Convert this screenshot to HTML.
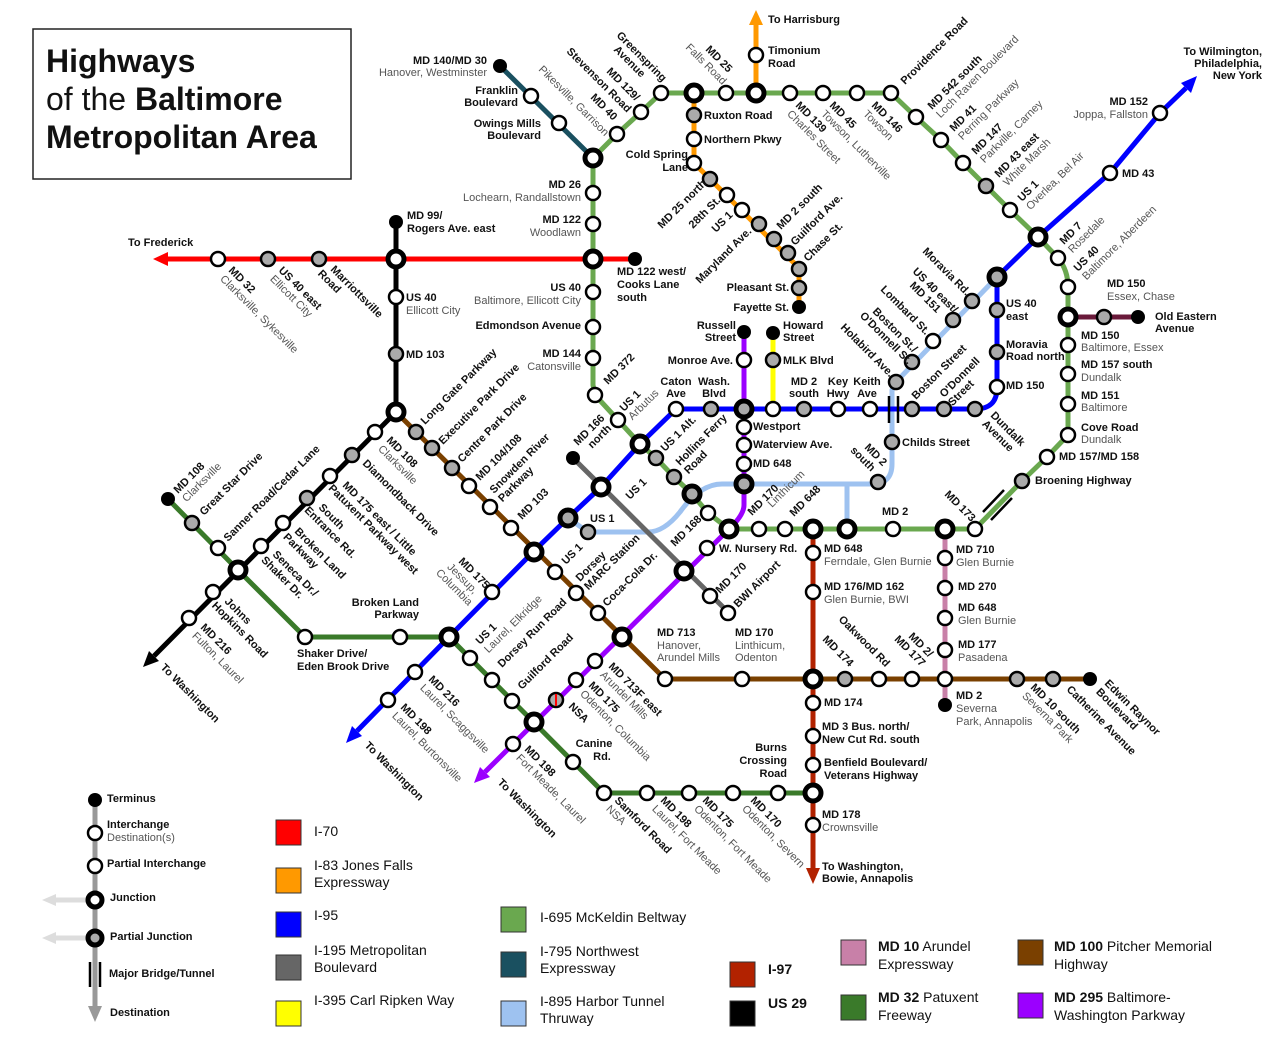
<!DOCTYPE html>
<html><head><meta charset="utf-8"><style>
html,body{margin:0;padding:0;background:#fff}
svg{display:block}
text{font-family:"Liberation Sans",Arial,sans-serif}
.b{font-size:11px;font-weight:bold;fill:#111}
.g{font-size:11px;fill:#555;font-weight:normal}
.lg{font-size:14px;fill:#111}
.ln{fill:none;stroke-width:5;stroke-linejoin:round}
.s{fill:#fff;stroke:#000;stroke-width:2.5}
.p{fill:#aaa;stroke:#000;stroke-width:2.5}
.j{fill:#fff;stroke:#000;stroke-width:5}
.pj{fill:#aaa;stroke:#000;stroke-width:5}
.t{fill:#000}
</style></head><body>
<svg width="1280" height="1051" viewBox="0 0 1280 1051" xmlns="http://www.w3.org/2000/svg">
<rect x="33" y="29" width="318" height="150" fill="#fff" stroke="#222" stroke-width="1.5"/>
<text x="46" y="72" style="font-size:32px;font-weight:bold;fill:#111">Highways</text>
<text x="46" y="110" style="font-size:32px;fill:#111">of the <tspan font-weight="bold">Baltimore</tspan></text>
<text x="46" y="148" style="font-size:32px;font-weight:bold;fill:#111">Metropolitan Area</text>

<path class="ln" stroke="#9ec2f0" d="M568,518 L588,532 L648,532 Q664,532 680,512 Q700,484 722,484 L872,484 Q892,484 892,464 L892,390 L896,382 L997,277"/>
<path class="ln" stroke="#9ec2f0" d="M847,484 V529"/>
<path class="ln" stroke="#6aa84f" d="M593,158 L617,134 L641,112 L661,93 L891,93 L916,117 L941,140 L963,163 L986,186 L1010,210 L1038,237 L1058,258 Q1068,270 1068,287 L1068,435 L1047,457 L1022,481 L975,529 L729,529 L708,513 L692,494 L674,477 L656,458 L640,444 L618,420 L595,395 L593,385 Z"/>
<path class="ln" stroke="#f00" d="M165,259 H635"/>
<polygon points="153,259 168,252 168,266" fill="#f00"/>
<path class="ln" stroke="#000" d="M396,222 V412 L154,656"/>
<polygon points="143,667 159,661 149,651" fill="#000"/>
<path class="ln" stroke="#3a7a2a" d="M168,499 L238,570 L305,637 L449,637 L604,793 L813,793"/>
<path class="ln" stroke="#7a4000" d="M396,412 L665,679 L1090,679"/>
<path class="ln" stroke="#666" d="M573,458 L728,612"/>
<path class="ln" stroke="#9b00ff" d="M744,330 V505 Q744,515 729,529 L485,772"/>
<polygon points="474,783 490,777 480,767" fill="#9b00ff"/>
<path class="ln" stroke="#00f" d="M357,731 L449,637 L534,551 L568,518 L601,487 L640,444 L676,409 L975,409 Q997,409 997,388 L997,277 L1038,237 L1110,173 L1160,113 L1186,88"/>
<polygon points="1197,76 1191,93 1181,83" fill="#00f"/>
<polygon points="346,743 362,736 352,726" fill="#00f"/>
<path class="ln" stroke="#f90" d="M756,24 V93"/>
<polygon points="756,10 749,25 763,25" fill="#f90"/>
<path class="ln" stroke="#f90" d="M694,93 V163 L799,268 V307"/>
<path class="ln" stroke="#ff0" d="M773,333 V409"/>
<path class="ln" stroke="#1a5060" d="M500,66 L593,158"/>
<path class="ln" stroke="#b22200" d="M813,529 V868"/>
<polygon points="813,884 806,868 820,868" fill="#b22200"/>
<path class="ln" stroke="#c880a8" d="M945,529 V705"/>
<path class="ln" stroke="#6a1a3a" d="M1068,317 H1138"/>
<path d="M1004,490 L983,512 M1012,498 L991,520" stroke="#000" stroke-width="2.5"/>
<path d="M889,396 V423 M898,396 V423" stroke="#000" stroke-width="2.5"/>

<g>
<circle class="s" cx="218" cy="259" r="7"/><circle class="p" cx="268" cy="259" r="7"/><circle class="p" cx="319" cy="259" r="7"/>
<circle class="t" cx="635" cy="259" r="7"/>
<circle class="t" cx="396" cy="222" r="7"/><circle class="s" cx="396" cy="297" r="7"/><circle class="p" cx="396" cy="354" r="7"/>
<circle class="s" cx="375" cy="432" r="7"/><circle class="p" cx="352" cy="455" r="7"/><circle class="s" cx="330" cy="476" r="7"/><circle class="p" cx="307" cy="498" r="7"/><circle class="s" cx="283" cy="523" r="7"/><circle class="s" cx="261" cy="546" r="7"/><circle class="s" cx="213" cy="592" r="7"/><circle class="s" cx="189" cy="618" r="7"/>
<circle class="t" cx="168" cy="499" r="7"/><circle class="p" cx="192" cy="523" r="7"/><circle class="s" cx="218" cy="548" r="7"/><circle class="s" cx="305" cy="637" r="7"/><circle class="s" cx="400" cy="637" r="7"/>
<circle class="s" cx="470" cy="658" r="7"/><circle class="s" cx="492" cy="680" r="7"/><circle class="s" cx="512" cy="701" r="7"/><circle class="s" cx="573" cy="762" r="7"/><circle class="s" cx="604" cy="793" r="7"/><circle class="s" cx="647" cy="793" r="7"/><circle class="s" cx="689" cy="793" r="7"/><circle class="s" cx="733" cy="793" r="7"/><circle class="s" cx="778" cy="793" r="7"/>
<circle class="p" cx="416" cy="432" r="7"/><circle class="p" cx="432" cy="448" r="7"/><circle class="p" cx="452" cy="468" r="7"/><circle class="s" cx="469" cy="486" r="7"/><circle class="s" cx="490" cy="507" r="7"/><circle class="s" cx="511" cy="528" r="7"/>
<circle class="s" cx="555" cy="572" r="7"/><circle class="s" cx="576" cy="593" r="7"/><circle class="s" cx="598" cy="613" r="7"/><circle class="s" cx="665" cy="679" r="7"/><circle class="s" cx="742" cy="679" r="7"/><circle class="p" cx="845" cy="679" r="7"/><circle class="s" cx="879" cy="679" r="7"/><circle class="s" cx="912" cy="679" r="7"/><circle class="s" cx="945" cy="679" r="7"/><circle class="p" cx="1017" cy="679" r="7"/><circle class="p" cx="1053" cy="679" r="7"/><circle class="t" cx="1090" cy="679" r="7"/>
<circle class="t" cx="573" cy="458" r="7"/><circle class="s" cx="710" cy="596" r="7"/><circle class="s" cx="728" cy="613" r="7"/>
<circle class="t" cx="744" cy="332" r="7"/><circle class="s" cx="744" cy="360" r="7"/><circle class="s" cx="744" cy="427" r="7"/><circle class="s" cx="744" cy="445" r="7"/><circle class="s" cx="744" cy="464" r="7"/>
<circle class="s" cx="707" cy="548" r="7"/><circle class="s" cx="595" cy="661" r="7"/><circle class="s" cx="576" cy="680" r="7"/><circle class="p" cx="556" cy="700" r="7"/><path d="M556,694 V706" stroke="#f00" stroke-width="2"/><circle class="s" cx="513" cy="744" r="7"/>
<circle class="s" cx="492" cy="592" r="7"/><circle class="s" cx="415" cy="672" r="7"/><circle class="s" cx="388" cy="700" r="7"/>
<circle class="s" cx="676" cy="409" r="7"/><circle class="p" cx="711" cy="409" r="7"/><circle class="s" cx="773" cy="409" r="7"/><circle class="p" cx="804" cy="409" r="7"/><circle class="s" cx="838" cy="409" r="7"/><circle class="s" cx="870" cy="409" r="7"/><circle class="p" cx="912" cy="409" r="7"/><circle class="p" cx="944" cy="409" r="7"/><circle class="p" cx="975" cy="409" r="7"/>
<circle class="s" cx="997" cy="387" r="7"/><circle class="p" cx="997" cy="352" r="7"/><circle class="p" cx="997" cy="310" r="7"/>
<circle class="s" cx="1110" cy="173" r="7"/><circle class="s" cx="1160" cy="113" r="7"/>
<circle class="p" cx="588" cy="532" r="7"/><circle class="p" cx="878" cy="482" r="7"/><circle class="p" cx="892" cy="442" r="7"/><circle class="p" cx="896" cy="382" r="7"/><circle class="p" cx="912" cy="362" r="7"/><circle class="s" cx="933" cy="341" r="7"/><circle class="p" cx="953" cy="320" r="7"/><circle class="p" cx="972" cy="301" r="7"/>
<circle class="s" cx="617" cy="134" r="7"/><circle class="s" cx="641" cy="112" r="7"/><circle class="s" cx="661" cy="93" r="7"/><circle class="s" cx="726" cy="93" r="7"/><circle class="s" cx="790" cy="93" r="7"/><circle class="s" cx="823" cy="93" r="7"/><circle class="s" cx="857" cy="93" r="7"/><circle class="s" cx="891" cy="93" r="7"/>
<circle class="s" cx="916" cy="117" r="7"/><circle class="s" cx="941" cy="140" r="7"/><circle class="s" cx="963" cy="163" r="7"/><circle class="p" cx="986" cy="186" r="7"/><circle class="s" cx="1010" cy="210" r="7"/><circle class="s" cx="1058" cy="258" r="7"/>
<circle class="s" cx="1068" cy="287" r="7"/><circle class="s" cx="1068" cy="345" r="7"/><circle class="s" cx="1068" cy="374" r="7"/><circle class="s" cx="1068" cy="404" r="7"/><circle class="s" cx="1068" cy="435" r="7"/><circle class="s" cx="1047" cy="457" r="7"/><circle class="p" cx="1022" cy="481" r="7"/><circle class="s" cx="975" cy="529" r="7"/><circle class="s" cx="893" cy="529" r="7"/><circle class="s" cx="785" cy="529" r="7"/><circle class="s" cx="759" cy="529" r="7"/>
<circle class="s" cx="708" cy="513" r="7"/><circle class="p" cx="674" cy="477" r="7"/><circle class="p" cx="656" cy="458" r="7"/><circle class="s" cx="618" cy="420" r="7"/><circle class="s" cx="595" cy="395" r="7"/>
<circle class="s" cx="593" cy="358" r="7"/><circle class="s" cx="593" cy="327" r="7"/><circle class="s" cx="593" cy="292" r="7"/><circle class="s" cx="593" cy="224" r="7"/><circle class="s" cx="593" cy="193" r="7"/>
<circle class="s" cx="756" cy="55" r="7"/><circle class="p" cx="694" cy="115" r="7"/><circle class="s" cx="694" cy="139" r="7"/><circle class="s" cx="694" cy="163" r="7"/><circle class="p" cx="710" cy="179" r="7"/><circle class="s" cx="727" cy="195" r="7"/><circle class="s" cx="742" cy="210" r="7"/><circle class="p" cx="759" cy="224" r="7"/><circle class="p" cx="774" cy="239" r="7"/><circle class="p" cx="788" cy="253" r="7"/><circle class="p" cx="799" cy="269" r="7"/><circle class="p" cx="799" cy="288" r="7"/><circle class="t" cx="799" cy="307" r="7"/>
<circle class="t" cx="773" cy="333" r="7"/><circle class="p" cx="773" cy="360" r="7"/>
<circle class="t" cx="500" cy="66" r="7"/><circle class="s" cx="531" cy="96" r="7"/><circle class="s" cx="559" cy="123" r="7"/>
<circle class="s" cx="813" cy="553" r="7"/><circle class="s" cx="813" cy="592" r="7"/><circle class="s" cx="813" cy="703" r="7"/><circle class="s" cx="813" cy="736" r="7"/><circle class="s" cx="813" cy="765" r="7"/><circle class="s" cx="813" cy="825" r="7"/>
<circle class="s" cx="945" cy="558" r="7"/><circle class="s" cx="945" cy="588" r="7"/><circle class="s" cx="945" cy="618" r="7"/><circle class="s" cx="945" cy="650" r="7"/><circle class="t" cx="945" cy="705" r="7"/>
<circle class="p" cx="1104" cy="317" r="7"/><circle class="t" cx="1138" cy="317" r="7"/>
<circle class="j" cx="396" cy="259" r="8"/><circle class="j" cx="593" cy="259" r="8"/><circle class="j" cx="396" cy="412" r="8"/><circle class="j" cx="238" cy="570" r="8"/>
<circle class="j" cx="449" cy="637" r="8"/><circle class="j" cx="534" cy="722" r="8"/><circle class="j" cx="813" cy="793" r="8"/><circle class="j" cx="534" cy="552" r="8"/><circle class="j" cx="622" cy="637" r="8"/><circle class="j" cx="813" cy="679" r="8"/>
<circle class="j" cx="601" cy="487" r="8"/><circle class="j" cx="684" cy="571" r="8"/><circle class="pj" cx="744" cy="409" r="8"/><circle class="pj" cx="744" cy="484" r="8"/><circle class="j" cx="729" cy="529" r="8"/>
<circle class="pj" cx="568" cy="518" r="8"/><circle class="j" cx="640" cy="444" r="8"/><circle class="pj" cx="997" cy="277" r="8"/><circle class="j" cx="1038" cy="237" r="8"/>
<circle class="j" cx="593" cy="158" r="8"/><circle class="j" cx="694" cy="93" r="8"/><circle class="j" cx="756" cy="93" r="8"/><circle class="j" cx="1068" cy="317" r="8"/>
<circle class="j" cx="813" cy="529" r="8"/><circle class="j" cx="847" cy="529" r="8"/><circle class="j" cx="945" cy="529" r="8"/><circle class="pj" cx="692" cy="494" r="8"/>
</g>

<g class="b">
<text x="487" y="64" text-anchor="end">MD 140/MD 30</text><text x="487" y="76" text-anchor="end" class="g">Hanover, Westminster</text>
<text x="518" y="94" text-anchor="end">Franklin</text><text x="518" y="106" text-anchor="end">Boulevard</text>
<text x="541" y="127" text-anchor="end">Owings Mills</text><text x="541" y="139" text-anchor="end">Boulevard</text>
<text x="704" y="119">Ruxton Road</text><text x="704" y="143">Northern Pkwy</text>
<text x="688" y="158" text-anchor="end">Cold Spring</text><text x="688" y="171" text-anchor="end">Lane</text>
<text x="768" y="23">To Harrisburg</text><text x="768" y="54">Timonium</text><text x="768" y="67">Road</text>
<text x="1262" y="55" text-anchor="end">To Wilmington,</text><text x="1262" y="79" text-anchor="end">New York</text><text x="1262" y="67" text-anchor="end">Philadelphia,</text>
<text x="1148" y="105" text-anchor="end">MD 152</text><text x="1148" y="118" text-anchor="end" class="g">Joppa, Fallston</text>
<text x="1122" y="177">MD 43</text>
<text x="1107" y="287">MD 150</text><text x="1107" y="300" class="g">Essex, Chase</text>
<text x="1155" y="320">Old Eastern</text><text x="1155" y="332">Avenue</text>
<text x="1081" y="339">MD 150</text><text x="1081" y="351" class="g">Baltimore, Essex</text>
<text x="1081" y="368">MD 157 south</text><text x="1081" y="381" class="g">Dundalk</text>
<text x="1081" y="399">MD 151</text><text x="1081" y="411" class="g">Baltimore</text>
<text x="1081" y="431">Cove Road</text><text x="1081" y="443" class="g">Dundalk</text>
<text x="1059" y="460">MD 157/MD 158</text><text x="1035" y="484">Broening Highway</text>
<text x="1006" y="307">US 40</text><text x="1006" y="320">east</text>
<text x="1006" y="348">Moravia</text><text x="1006" y="360">Road north</text><text x="1006" y="389">MD 150</text>
<text x="902" y="446">Childs Street</text>
<text x="676" y="385" text-anchor="middle">Caton</text><text x="676" y="397" text-anchor="middle">Ave</text>
<text x="714" y="385" text-anchor="middle">Wash.</text><text x="714" y="397" text-anchor="middle">Blvd</text>
<text x="804" y="385" text-anchor="middle">MD 2</text><text x="804" y="397" text-anchor="middle">south</text>
<text x="838" y="385" text-anchor="middle">Key</text><text x="838" y="397" text-anchor="middle">Hwy</text>
<text x="867" y="385" text-anchor="middle">Keith</text><text x="867" y="397" text-anchor="middle">Ave</text>
<text x="736" y="329" text-anchor="end">Russell</text><text x="736" y="341" text-anchor="end">Street</text>
<text x="783" y="329">Howard</text><text x="783" y="341">Street</text>
<text x="733" y="364" text-anchor="end">Monroe Ave.</text><text x="783" y="364">MLK Blvd</text>
<text x="789" y="291" text-anchor="end">Pleasant St.</text><text x="789" y="311" text-anchor="end">Fayette St.</text>
<text x="753" y="430">Westport</text><text x="753" y="448">Waterview Ave.</text><text x="753" y="467">MD 648</text>
<text x="882" y="515">MD 2</text>
<text x="719" y="552">W. Nursery Rd.</text>
<text x="824" y="552">MD 648</text><text x="824" y="565" class="g">Ferndale, Glen Burnie</text>
<text x="824" y="590">MD 176/MD 162</text><text x="824" y="603" class="g">Glen Burnie, BWI</text>
<text x="956" y="553">MD 710</text><text x="956" y="566" class="g">Glen Burnie</text>
<text x="958" y="590">MD 270</text>
<text x="958" y="611">MD 648</text><text x="958" y="624" class="g">Glen Burnie</text>
<text x="958" y="648">MD 177</text><text x="958" y="661" class="g">Pasadena</text>
<text x="956" y="699">MD 2</text><text x="956" y="712" class="g">Severna</text><text x="956" y="725" class="g">Park, Annapolis</text>
<text x="657" y="636">MD 713</text><text x="657" y="649" class="g">Hanover,</text><text x="657" y="661" class="g">Arundel Mills</text>
<text x="735" y="636">MD 170</text><text x="735" y="649" class="g">Linthicum,</text><text x="735" y="661" class="g">Odenton</text>
<text x="824" y="706">MD 174</text><text x="822" y="730">MD 3 Bus. north/</text><text x="822" y="743">New Cut Rd. south</text>
<text x="824" y="766">Benfield Boulevard/</text><text x="824" y="779">Veterans Highway</text>
<text x="822" y="818">MD 178</text><text x="822" y="831" class="g">Crownsville</text>
<text x="822" y="870">To Washington,</text><text x="822" y="882">Bowie, Annapolis</text>
<text x="787" y="751" text-anchor="end">Burns</text><text x="787" y="764" text-anchor="end">Crossing</text><text x="787" y="777" text-anchor="end">Road</text>
<text x="594" y="747" text-anchor="middle">Canine</text><text x="602" y="760" text-anchor="middle">Rd.</text>
<text x="128" y="246">To Frederick</text>
<text x="407" y="219">MD 99/</text><text x="407" y="232">Rogers Ave. east</text>
<text x="406" y="301">US 40</text><text x="406" y="314" class="g">Ellicott City</text><text x="406" y="358">MD 103</text>
<text x="617" y="275">MD 122 west/</text><text x="617" y="288">Cooks Lane</text><text x="617" y="301">south</text>
<text x="581" y="188" text-anchor="end">MD 26</text><text x="581" y="201" text-anchor="end" class="g">Lochearn, Randallstown</text>
<text x="581" y="223" text-anchor="end">MD 122</text><text x="581" y="236" text-anchor="end" class="g">Woodlawn</text>
<text x="581" y="291" text-anchor="end">US 40</text><text x="581" y="304" text-anchor="end" class="g">Baltimore, Ellicott City</text>
<text x="581" y="329" text-anchor="end">Edmondson Avenue</text>
<text x="581" y="357" text-anchor="end">MD 144</text><text x="581" y="370" text-anchor="end" class="g">Catonsville</text>
<text x="419" y="606" text-anchor="end">Broken Land</text><text x="419" y="618" text-anchor="end">Parkway</text>
<text x="297" y="657">Shaker Drive/</text><text x="297" y="670">Eden Brook Drive</text>
<text x="590" y="522">US 1</text>
</g>

<g class="b">
<g transform="translate(228,271) rotate(45)"><text>MD 32<tspan x="0" dy="12" class="g">Clarksville, Sykesville</tspan></text></g>
<g transform="translate(278,271) rotate(45)"><text>US 40 east<tspan x="0" dy="12" class="g">Ellicott City</tspan></text></g>
<g transform="translate(330,270) rotate(45)"><text>Marriottsville<tspan x="-6" dy="12">Road</tspan></text></g>
<g transform="translate(386,441) rotate(45)"><text>MD 108<tspan x="0" dy="12" class="g">Clarksville</tspan></text></g>
<g transform="translate(362,464) rotate(45)"><text>Diamondback Drive</text></g>
<g transform="translate(342,486) rotate(45)"><text>MD 175 east / Little<tspan x="-8" dy="12">Patuxent Parkway west</tspan></text></g>
<g transform="translate(318,508) rotate(45)"><text>South<tspan x="-8" dy="12">Entrance Rd.</tspan></text></g>
<g transform="translate(294,532) rotate(45)"><text>Broken Land<tspan x="-4" dy="12">Parkway</tspan></text></g>
<g transform="translate(272,555) rotate(45)"><text>Seneca Dr./<tspan x="-4" dy="12">Shaker Dr.</tspan></text></g>
<g transform="translate(224,602) rotate(45)"><text>Johns<tspan x="-6" dy="12">Hopkins Road</tspan></text></g>
<g transform="translate(200,628) rotate(45)"><text>MD 216<tspan x="0" dy="12" class="g">Fulton, Laurel</tspan></text></g>
<g transform="translate(160,668) rotate(45)"><text>To Washington</text></g>
<g transform="translate(458,562) rotate(45)"><text>MD 175<tspan x="-4" dy="12" class="g">Jessup,</tspan><tspan x="-8" dy="12" class="g">Columbia</tspan></text></g>
<g transform="translate(428,680) rotate(45)"><text>MD 216<tspan x="0" dy="12" class="g">Laurel, Scaggsville</tspan></text></g>
<g transform="translate(400,708) rotate(45)"><text>MD 198<tspan x="0" dy="12" class="g">Laurel, Burtonsville</tspan></text></g>
<g transform="translate(364,746) rotate(45)"><text>To Washington</text></g>
<g transform="translate(608,667) rotate(45)"><text>MD 713F east<tspan x="0" dy="12" class="g">Arundel Mills</tspan></text></g>
<g transform="translate(588,686) rotate(45)"><text>MD 175<tspan x="0" dy="12" class="g">Odenton, Columbia</tspan></text></g>
<g transform="translate(568,707) rotate(45)"><text>NSA</text></g>
<g transform="translate(524,750) rotate(45)"><text>MD 198<tspan x="0" dy="12" class="g">Fort Meade, Laurel</tspan></text></g>
<g transform="translate(497,783) rotate(45)"><text>To Washington</text></g>
<g transform="translate(614,801) rotate(45)"><text>Samford Road<tspan x="0" dy="12" class="g">NSA</tspan></text></g>
<g transform="translate(660,801) rotate(45)"><text>MD 198<tspan x="0" dy="12" class="g">Laurel, Fort Meade</tspan></text></g>
<g transform="translate(702,801) rotate(45)"><text>MD 175<tspan x="0" dy="12" class="g">Odenton, Fort Meade</tspan></text></g>
<g transform="translate(750,801) rotate(45)"><text>MD 170<tspan x="0" dy="12" class="g">Odenton, Severn</tspan></text></g>
<g transform="translate(1030,688) rotate(45)"><text>MD 10 south<tspan x="0" dy="12" class="g">Severna Park</tspan></text></g>
<g transform="translate(1066,690) rotate(45)"><text>Catherine Avenue</text></g>
<g transform="translate(1104,684) rotate(45)"><text>Edwin Raynor<tspan x="0" dy="12">Boulevard</tspan></text></g>
<g transform="translate(822,640) rotate(45)"><text>MD 174</text></g>
<g transform="translate(838,620) rotate(45)"><text>Oakwood Rd</text></g>
<g transform="translate(908,637) rotate(45)"><text>MD 2/<tspan x="-8" dy="12">MD 177</tspan></text></g>
<g transform="translate(944,495) rotate(45)"><text>MD 173</text></g>
<g transform="translate(864,448) rotate(45)"><text>MD 2<tspan x="-8" dy="12">south</tspan></text></g>
<g transform="translate(990,416) rotate(45)"><text>Dundalk<tspan x="0" dy="12">Avenue</tspan></text></g>
<g transform="translate(922,252) rotate(45)"><text>Moravia Rd.</text></g>
<g transform="translate(912,272) rotate(45)"><text>US 40 east/<tspan x="8" dy="12">MD 151</tspan></text></g>
<g transform="translate(880,290) rotate(45)"><text>Lombard St.</text></g>
<g transform="translate(872,312) rotate(45)"><text>Boston St./<tspan x="-6" dy="12">O'Donnell St.</tspan></text></g>
<g transform="translate(840,328) rotate(45)"><text>Holabird Ave.</text></g>
<g transform="translate(795,106) rotate(45)"><text>MD 139<tspan x="0" dy="12" class="g">Charles Street</tspan></text></g>
<g transform="translate(829,106) rotate(45)"><text>MD 45<tspan x="0" dy="12" class="g">Towson, Lutherville</tspan></text></g>
<g transform="translate(871,106) rotate(45)"><text>MD 146<tspan x="0" dy="12" class="g">Towson</tspan></text></g>
<g transform="translate(705,50) rotate(45)"><text>MD 25</text></g>
<g transform="translate(685,48) rotate(45)"><text class="g">Falls Road</text></g>
<g transform="translate(616,36) rotate(45)"><text>Greenspring<tspan x="8" dy="12">Avenue</tspan></text></g>
<g transform="translate(606,72) rotate(45)"><text>MD 129/</text></g>
<g transform="translate(566,52) rotate(45)"><text>Stevenson Road</text></g>
<g transform="translate(590,98) rotate(45)"><text>MD 40</text></g>
<g transform="translate(538,70) rotate(45)"><text class="g">Pikesville, Garrison</text></g>
</g>

<g class="b">
<g transform="translate(178,494) rotate(-45)"><text>MD 108<tspan x="0" dy="12" class="g">Clarksville</tspan></text></g>
<g transform="translate(204,516) rotate(-45)"><text>Great Star Drive</text></g>
<g transform="translate(228,542) rotate(-45)"><text>Sanner Road/Cedar Lane</text></g>
<g transform="translate(425,425) rotate(-45)"><text>Long Gate Parkway</text></g>
<g transform="translate(443,445) rotate(-45)"><text>Executive Park Drive</text></g>
<g transform="translate(462,463) rotate(-45)"><text>Centre Park Drive</text></g>
<g transform="translate(480,481) rotate(-45)"><text>MD 104/108</text></g>
<g transform="translate(494,494) rotate(-45)"><text>Snowden River<tspan x="0" dy="12">Parkway</tspan></text></g>
<g transform="translate(522,520) rotate(-45)"><text>MD 103</text></g>
<g transform="translate(480,645) rotate(-45)"><text>US 1<tspan x="0" dy="12" class="g">Laurel, Elkridge</tspan></text></g>
<g transform="translate(502,668) rotate(-45)"><text>Dorsey Run Road</text></g>
<g transform="translate(522,690) rotate(-45)"><text>Guilford Road</text></g>
<g transform="translate(566,565) rotate(-45)"><text>US 1</text></g>
<g transform="translate(580,582) rotate(-45)"><text>Dorsey<tspan x="0" dy="12">MARC Station</tspan></text></g>
<g transform="translate(607,607) rotate(-45)"><text>Coca-Cola Dr.</text></g>
<g transform="translate(675,547) rotate(-45)"><text>MD 168</text></g>
<g transform="translate(720,594) rotate(-45)"><text>MD 170</text></g>
<g transform="translate(738,608) rotate(-45)"><text>BWI Airport</text></g>
<g transform="translate(752,516) rotate(-45)"><text>MD 170</text></g>
<g transform="translate(772,508) rotate(-45)"><text class="g">Linthicum</text></g>
<g transform="translate(794,517) rotate(-45)"><text>MD 648</text></g>
<g transform="translate(680,466) rotate(-45)"><text>Hollins Ferry<tspan x="0" dy="12">Road</tspan></text></g>
<g transform="translate(665,452) rotate(-45)"><text>US 1 Alt.</text></g>
<g transform="translate(624,412) rotate(-45)"><text>US 1<tspan x="0" dy="12" class="g">Arbutus</tspan></text></g>
<g transform="translate(608,385) rotate(-45)"><text>MD 372</text></g>
<g transform="translate(630,500) rotate(-45)"><text>US 1</text></g>
<g transform="translate(578,446) rotate(-45)"><text>MD 166<tspan x="8" dy="12">north</tspan></text></g>
<g transform="translate(662,229) rotate(-45)"><text>MD 25 north</text></g>
<g transform="translate(693,229) rotate(-45)"><text>28th St.</text></g>
<g transform="translate(716,233) rotate(-45)"><text>US 1</text></g>
<g transform="translate(700,284) rotate(-45)"><text>Maryland Ave.</text></g>
<g transform="translate(781,230) rotate(-45)"><text>MD 2 south</text></g>
<g transform="translate(795,246) rotate(-45)"><text>Guilford Ave.</text></g>
<g transform="translate(808,262) rotate(-45)"><text>Chase St.</text></g>
<g transform="translate(905,85) rotate(-45)"><text>Providence Road</text></g>
<g transform="translate(932,110) rotate(-45)"><text>MD 542 south<tspan x="0" dy="12" class="g">Loch Raven Boulevard</tspan></text></g>
<g transform="translate(954,132) rotate(-45)"><text>MD 41<tspan x="0" dy="12" class="g">Perring Parkway</tspan></text></g>
<g transform="translate(976,155) rotate(-45)"><text>MD 147<tspan x="0" dy="12" class="g">Parkville, Carney</tspan></text></g>
<g transform="translate(999,178) rotate(-45)"><text>MD 43 east<tspan x="0" dy="12" class="g">White Marsh</tspan></text></g>
<g transform="translate(1022,202) rotate(-45)"><text>US 1<tspan x="0" dy="12" class="g">Overlea, Bel Air</tspan></text></g>
<g transform="translate(1064,245) rotate(-45)"><text>MD 7<tspan x="0" dy="12" class="g">Rosedale</tspan></text></g>
<g transform="translate(1078,272) rotate(-45)"><text>US 40<tspan x="0" dy="12" class="g">Baltimore, Aberdeen</tspan></text></g>
<g transform="translate(916,400) rotate(-45)"><text>Boston Street</text></g>
<g transform="translate(944,398) rotate(-45)"><text>O'Donnell<tspan x="0" dy="12">Street</tspan></text></g>
</g>

<path d="M95,800 V1008" stroke="#999" stroke-width="5"/>
<polygon points="95,1022 88,1006 102,1006" fill="#999"/>
<path d="M52,900 H90 M52,938 H90" stroke="#ddd" stroke-width="5"/>
<polygon points="42,900 56,894 56,906" fill="#ddd"/><polygon points="42,938 56,932 56,944" fill="#ddd"/>
<path d="M90,962 V987 M100,962 V987" stroke="#000" stroke-width="2.5"/>
<circle class="t" cx="95" cy="800" r="7"/><circle class="s" cx="95" cy="833" r="7"/><circle class="s" cx="95" cy="866" r="7"/>
<circle class="j" cx="95" cy="900" r="7"/><circle class="pj" cx="95" cy="938" r="7"/>
<g class="b">
<text x="107" y="802">Terminus</text><text x="107" y="828">Interchange</text><text x="107" y="841" class="g">Destination(s)</text>
<text x="107" y="867">Partial Interchange</text><text x="110" y="901">Junction</text><text x="110" y="940">Partial Junction</text>
<text x="109" y="977">Major Bridge/Tunnel</text><text x="110" y="1016">Destination</text>
</g>
<g stroke="#333" stroke-width="1">
<rect x="276" y="820" width="25" height="25" fill="#f00"/>
<rect x="276" y="868" width="25" height="25" fill="#f90"/>
<rect x="276" y="912" width="25" height="25" fill="#00f"/>
<rect x="276" y="955" width="25" height="25" fill="#666"/>
<rect x="276" y="1001" width="25" height="25" fill="#ff0"/>
<rect x="501" y="907" width="25" height="25" fill="#6aa84f"/>
<rect x="501" y="952" width="25" height="25" fill="#1a5060"/>
<rect x="501" y="1001" width="25" height="25" fill="#9ec2f0"/>
<rect x="730" y="962" width="25" height="25" fill="#b22200"/>
<rect x="730" y="1001" width="25" height="25" fill="#000"/>
<rect x="841" y="940" width="25" height="25" fill="#c880a8"/>
<rect x="841" y="995" width="25" height="25" fill="#3a7a2a"/>
<rect x="1018" y="940" width="25" height="25" fill="#7a4000"/>
<rect x="1018" y="993" width="25" height="25" fill="#9b00ff"/>
</g>
<g class="lg">
<text x="314" y="836">I-70</text>
<text x="314" y="870">I-83 Jones Falls</text><text x="314" y="887">Expressway</text>
<text x="314" y="920">I-95</text>
<text x="314" y="955">I-195 Metropolitan</text><text x="314" y="972">Boulevard</text>
<text x="314" y="1005">I-395 Carl Ripken Way</text>
<text x="540" y="922">I-695 McKeldin Beltway</text>
<text x="540" y="956">I-795 Northwest</text><text x="540" y="973">Expressway</text>
<text x="540" y="1006">I-895 Harbor Tunnel</text><text x="540" y="1023">Thruway</text>
<text x="768" y="974" font-weight="bold">I-97</text>
<text x="768" y="1008" font-weight="bold">US 29</text>
<text x="878" y="951"><tspan font-weight="bold">MD 10</tspan> Arundel</text><text x="878" y="969">Expressway</text>
<text x="878" y="1002"><tspan font-weight="bold">MD 32</tspan> Patuxent</text><text x="878" y="1020">Freeway</text>
<text x="1054" y="951"><tspan font-weight="bold">MD 100</tspan> Pitcher Memorial</text><text x="1054" y="969">Highway</text>
<text x="1054" y="1002"><tspan font-weight="bold">MD 295</tspan> Baltimore-</text><text x="1054" y="1020">Washington Parkway</text>
</g>
</svg>
</body></html>
